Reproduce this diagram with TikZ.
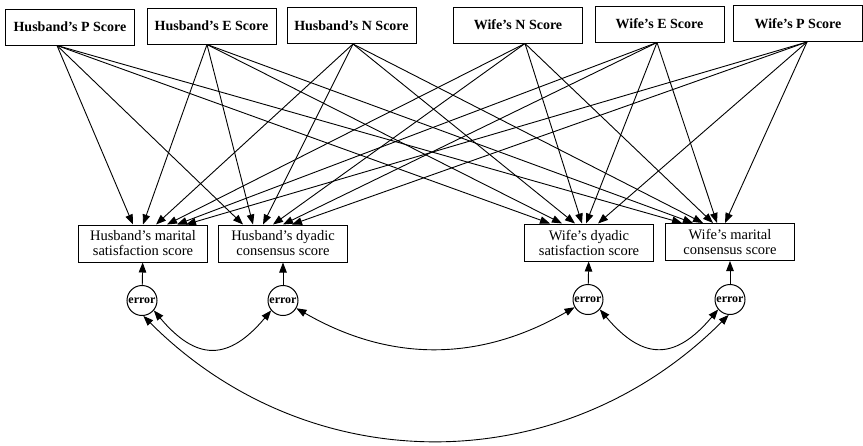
\documentclass[tikz,border=0pt]{standalone}
\usepackage{fontspec}
\setmainfont{Liberation Serif}
\usetikzlibrary{arrows.meta}

\begin{document}
\begin{tikzpicture}[x=1pt,y=1pt,
    score/.style={draw,line width=1pt,minimum width=129pt,minimum height=36pt,inner sep=0pt,font=\fontsize{14}{15}\selectfont\bfseries},
    outcome/.style={draw,line width=1pt,minimum width=129pt,minimum height=37pt,inner sep=0pt,align=center,font=\fontsize{14.5}{15}\selectfont},
    err/.style={draw,circle,line width=1pt,minimum size=30pt,inner sep=0pt,font=\fontsize{12}{12}\selectfont\bfseries},
    arr/.style={line width=0.9pt,-{Triangle[length=10pt,width=7.5pt]}},
    dbl/.style={line width=0.9pt,{Triangle[length=10pt,width=7.5pt]}-{Triangle[length=10pt,width=7.5pt]}}]
    \useasboundingbox (0,0) rectangle (863,-445);
    % predictors
    \node[score] (hp) at (70,-27) {Husband's P Score};
    \node[score] (he) at (211.5,-26) {Husband's E Score};
    \node[score] (hn) at (351.5,-25.5) {Husband's N Score};
    \node[score] (wn) at (518,-25) {Wife's N Score};
    \node[score] (we) at (659.5,-24) {Wife's E Score};
    \node[score] (wp) at (798,-23.5) {Wife's P Score};
    % outcomes
    \node[outcome] (hms) at (143,-243.5) {Husband's marital\\satisfaction score};
    \node[outcome] (hdc) at (283,-243.5) {Husband's dyadic\\consensus score};
    \node[outcome] (wds) at (589,-242.5) {Wife's dyadic\\satisfaction score};
    \node[outcome] (wmc) at (730,-242) {Wife's marital\\consensus score};
    % errors
    \node[err] (e1) at (142,-300.5) {error};
    \node[err] (e2) at (283,-300.5) {error};
    \node[err] (e3) at (588,-299.5) {error};
    \node[err] (e4) at (730,-299.5) {error};
    % paths
    \foreach \src/\sx/\a/\b/\c/\d in {hp/-13/-10/-40/-39/-48, he/-4.5/0/-30/-27/-37,
        hn/1.5/13/-20/-14/-27, wn/7/24/-10/-7/-17, we/-2.5/34/0/-3/-13, wp/9/43/9/9/-5}
    {
        \draw[arr] ([xshift=\sx pt]\src.south) -- ([xshift=\a pt]hms.north);
        \draw[arr] ([xshift=\sx pt]\src.south) -- ([xshift=\b pt]hdc.north);
        \draw[arr] ([xshift=\sx pt]\src.south) -- ([xshift=\c pt]wds.north);
        \draw[arr] ([xshift=\sx pt]\src.south) -- ([xshift=\d pt]wmc.north);
    }
    \draw[arr] (e1) -- (hms);
    \draw[arr] (e2) -- (hdc);
    \draw[arr] (e3) -- (wds);
    \draw[arr] (e4) -- (wmc);
    % correlated errors
    \draw[dbl] (e1.-40) to[out=-50,in=-130,looseness=1.45] (e2.-140);
    \draw[dbl] (e2.-30) to[out=-30,in=-150] (e3.-150);
    \draw[dbl] (e3.-40) to[out=-50,in=-130,looseness=1.45] (e4.-140);
    \draw[dbl] (e1.-85) to[out=-45,in=-135,looseness=1.03] (e4.-95);
\end{tikzpicture}
\end{document}
